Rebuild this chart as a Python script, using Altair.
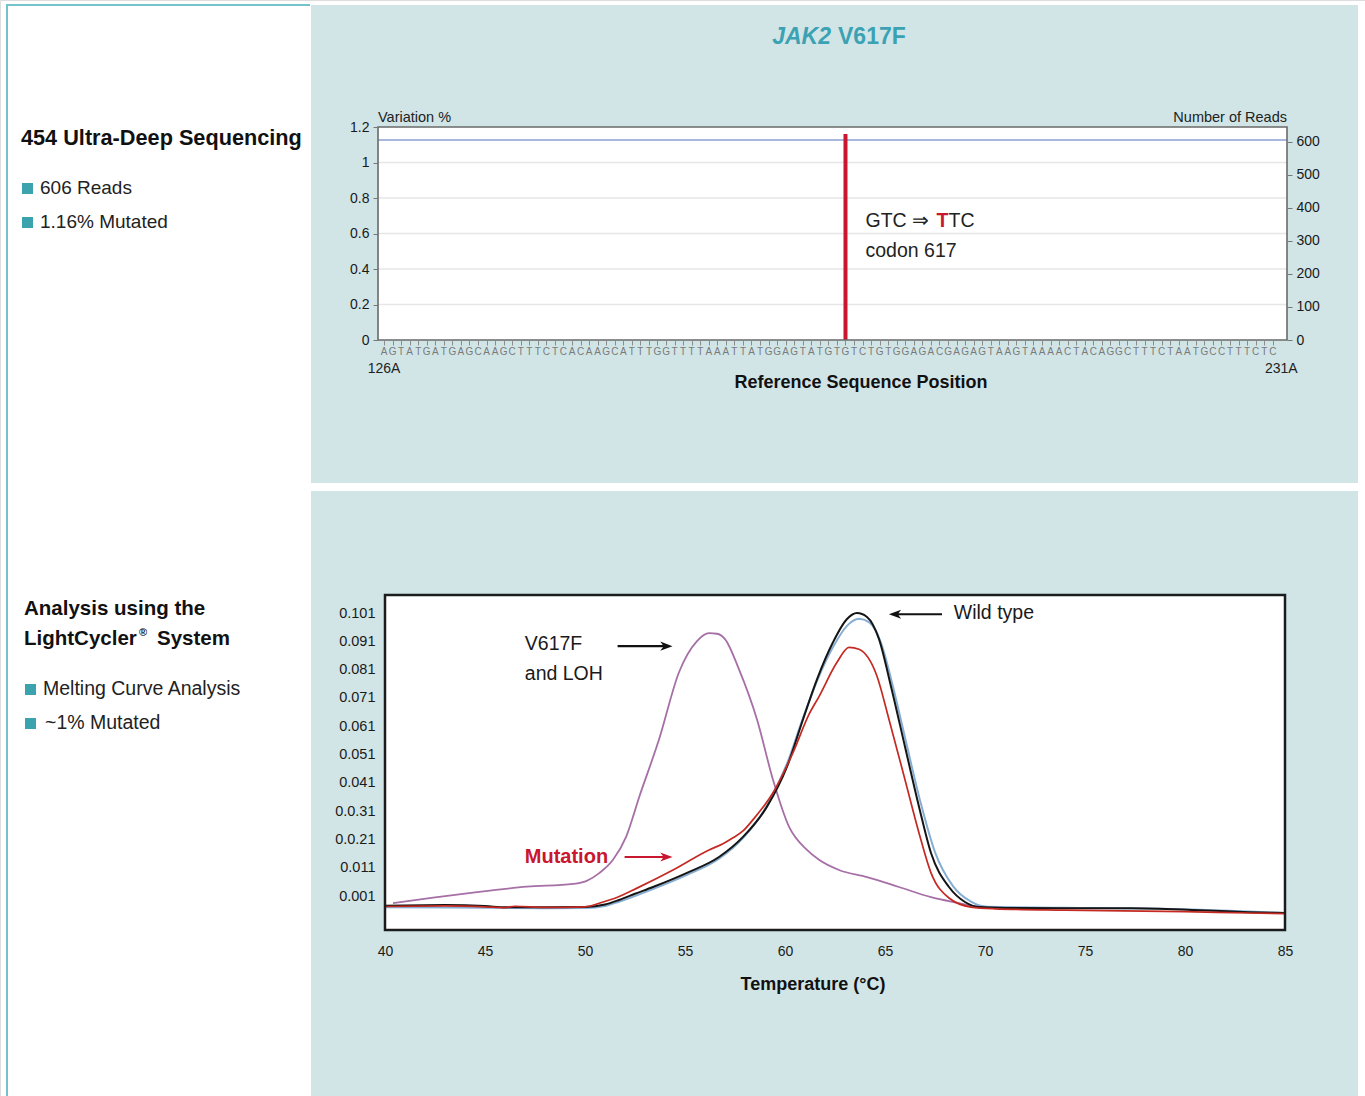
import altair as alt
import pandas as pd

# ---------------- data ----------------
title_italic = "JAK2"
title_plain = "V617F"

left_top_heading = "454 Ultra-Deep Sequencing"
left_top_bullets = ["606 Reads", "1.16% Mutated"]
left_bottom_heading = ["Analysis using the", "LightCycler", "®", "System"]
left_bottom_bullets = ["Melting Curve Analysis", "~1% Mutated"]

sequence = list("AGTATGATGAGCAAGCTTTCTCACAAGCATTTGGTTTTAAATTATGGAGTATGTGTCTGTGGAGACGAGAGTAAGTAAAACTACAGGCTTTCTAATGCCTTTCTC")
seq_start_label = "126A"
seq_end_label = "231A"
mutation_pos = [54]
mutation_pct = [1.16]
reads_total = [606]
variation_ticks = [0, 0.2, 0.4, 0.6, 0.8, 1, 1.2]
grid_values = [0.2, 0.4, 0.6, 0.8, 1.0]
reads_ticks = [0, 100, 200, 300, 400, 500, 600]
codon_text = ["GTC \u21d2 ", "T", "TC"]
codon_label = "codon 617"

temp_ticks = [40, 45, 50, 55, 60, 65, 70, 75, 80, 85]
y_tick_values = [0.001, 0.011, 0.021, 0.031, 0.041, 0.051, 0.061, 0.071, 0.081, 0.091, 0.101]
y_tick_labels = ["0.001", "0.011", "0.0.21", "0.0.31", "0.041", "0.051", "0.061", "0.071", "0.081", "0.091", "0.101"]

temp_v617f = [40.4, 42.5, 44.6, 47.1, 49.4, 50.06, 50.73, 51.4, 52.06, 52.72, 53.7, 54.7, 55.6, 56.2,
              56.6, 57.0, 57.7, 58.6, 59.4, 60.2, 61.1, 61.7, 62.7, 64.1, 65.7, 67.3, 68.7, 69.4, 70.3]
val_v617f = [-0.0015, 0.0005, 0.0024, 0.0043, 0.0053, 0.0063, 0.0092, 0.0138, 0.0220, 0.0362, 0.0563,
             0.0801, 0.0911, 0.0939, 0.0937, 0.0918, 0.0811, 0.0634, 0.0421, 0.0255, 0.0173, 0.0138,
             0.0102, 0.0077, 0.0042, 0.0006, -0.0015, -0.0025, -0.0029]

temp_wild = [40, 43, 45, 46, 48, 50, 51, 51.7, 52.5, 53.4, 55.1, 56.7, 57.9, 59.1, 60.1, 60.9, 61.6,
             62.4, 63.1, 63.6, 64.1, 64.7, 65.3, 66.0, 66.7, 67.3, 68.2, 69.0, 69.7, 71, 74, 77.3,
             80.7, 83.2, 85]
val_wild = [-0.0024, -0.0022, -0.0025, -0.0030, -0.0030, -0.0029, -0.0020, -0.0004, 0.0018, 0.0042,
            0.0092, 0.0148, 0.0219, 0.0326, 0.0467, 0.0634, 0.0776, 0.0907, 0.0989, 0.1010, 0.0996,
            0.0918, 0.0751, 0.0538, 0.0326, 0.0162, 0.0042, -0.0011, -0.0029, -0.0032, -0.0033,
            -0.0033, -0.0040, -0.0047, -0.0050]

temp_ctrl = [40, 45, 48, 50, 51, 51.7, 53.4, 55.1, 56.7, 57.9, 59.1, 60.1, 60.9, 61.6, 62.4, 63.1,
             63.7, 64.2, 64.8, 65.4, 66.1, 66.8, 67.5, 68.4, 69.3, 70.1, 74, 80.7, 85]
val_ctrl = [-0.0030, -0.0031, -0.0033, -0.0032, -0.0025, -0.0010, 0.0035, 0.0085, 0.0142, 0.0215,
            0.0330, 0.0478, 0.0640, 0.0770, 0.0890, 0.0965, 0.0990, 0.0978, 0.0905, 0.0750, 0.0540,
            0.0335, 0.0165, 0.0045, -0.0010, -0.0028, -0.0031, -0.0038, -0.0050]

temp_mut = [40, 43, 45, 46, 46.5, 48, 50, 50.9, 51.5, 52.6, 54.4, 56.2, 56.9, 57.4, 57.9, 58.4, 59.4,
            60.4, 61.2, 61.7, 62.6, 63.2, 63.7, 64.6, 65.2, 66.0, 66.7, 67.3, 68.2, 69.3, 70.5, 74,
            80, 83.2, 85]
val_mut = [-0.0027, -0.0025, -0.0028, -0.0031, -0.0026, -0.0030, -0.0028, -0.0011, 0.0002, 0.0038,
           0.0102, 0.0173, 0.0195, 0.0216, 0.0240, 0.0280, 0.0375, 0.0517, 0.0652, 0.0715, 0.0836,
           0.0889, 0.0882, 0.0787, 0.0634, 0.0421, 0.0233, 0.0092, 0.0003, -0.0029, -0.0035,
           -0.0040, -0.0045, -0.0050, -0.0052]

annot_text = ["V617F", "and LOH", "Wild type"]
annot_t = [46.99, 46.99, 68.44]
annot_v = [0.0900, 0.0794, 0.1010]
mutation_text = "Mutation"
mutation_t = 46.99
mutation_v = 0.0148

arrow_start = [51.63, 67.85, 51.98]
arrow_end = [54.0, 65.6, 54.0]
arrow_head = [54.07, 65.5, 54.07]
arrow_v = [0.0893, 0.1006, 0.0148]
arrow_dir = ["right", "left", "right"]
arrow_color = ["black", "black", "red"]

# ---------------- styling / layout (canvas pixels) ----------------
FONT = "Liberation Sans"
BLUE_BG = "#d1e5e7"
TEAL = "#75c3ca"
BULLET = "#3aa3ae"
TITLE_TEAL = "#3ca2b3"
RED = "#c8172f"

W, H = 1365, 1096
# top plot frame
TX0, TX1, TY0, TY1 = 378, 1287, 127, 340
# bottom plot frame
BX0, BX1, BY0, BY1 = 385, 1285, 595, 930


def one(df_dict):
    return pd.DataFrame(df_dict)


def px_rect(x1, x2, y1, y2, **kw):
    return alt.Chart(one({"a": [0]})).mark_rect(**kw).encode(
        x=alt.value(x1), x2=alt.value(x2), y=alt.value(y1), y2=alt.value(y2))


def px_text(s, x, y, **kw):
    return alt.Chart(one({"label": [s]})).mark_text(font=FONT, **kw).encode(
        x=alt.value(x), y=alt.value(y), text="label:N")


def px_square(x, y, size=121):
    return alt.Chart(one({"a": [0]})).mark_square(size=size, color=BULLET, opacity=1).encode(
        x=alt.value(x), y=alt.value(y))


# ================= background & page texts =================
bg_layers = [
    px_rect(311, 1358, 5, 483, color=BLUE_BG),
    px_rect(311, 1358, 491, 1096, color=BLUE_BG),
    px_rect(6, 8, 4, 1096, color=TEAL),
    px_rect(6, 310, 4, 6, color=TEAL),
    px_rect(TX0, TX1, TY0, TY1, color="white"),
    px_rect(BX0, BX1, BY0, BY1, color="white"),
    px_text(title_italic, 831, 37, fontSize=23, fontWeight="bold", fontStyle="italic",
            align="right", color=TITLE_TEAL),
    px_text(title_plain, 838, 37, fontSize=23, fontWeight="bold", align="left", color=TITLE_TEAL),
    px_text("Variation %", TX0, 118, fontSize=14.5, align="left", color="#222"),
    px_text("Number of Reads", TX1, 118, fontSize=14.5, align="right", color="#222"),
    px_text("Reference Sequence Position", 861, 383, fontSize=18, fontWeight="bold", color="#111"),
    px_text("Temperature (\u00b0C)", 813, 985, fontSize=18, fontWeight="bold", color="#111"),
    # left panel
    px_text(left_top_heading, 21, 138, fontSize=21.7, fontWeight="bold", align="left", color="#111"),
    px_square(27.5, 188.5),
    px_square(27.5, 222.5),
    px_text(left_top_bullets[0], 40, 188, fontSize=19, align="left", color="#222"),
    px_text(left_top_bullets[1], 40, 222, fontSize=19, align="left", color="#222"),
    px_text(left_bottom_heading[0], 24, 609, fontSize=20.5, fontWeight="bold", align="left", color="#111"),
    px_text(left_bottom_heading[1], 24, 639, fontSize=20.5, fontWeight="bold", align="left", color="#111"),
    px_text(left_bottom_heading[2], 139, 633, fontSize=11, fontWeight="bold", align="left", color="#111"),
    px_text(left_bottom_heading[3], 157, 639, fontSize=20.5, fontWeight="bold", align="left", color="#111"),
    px_square(30.5, 689.5),
    px_square(30.5, 723.5),
    px_text(left_bottom_bullets[0], 43, 689, fontSize=19.5, align="left", color="#222"),
    px_text(left_bottom_bullets[1], 45, 723, fontSize=19.5, align="left", color="#222"),
]
background = alt.layer(*bg_layers)

# ================= TOP CHART =================
xs_top = alt.Scale(domain=[-0.12, 105.08], range=[TX0, TX1], nice=False, zero=False)
ys_var = alt.Scale(domain=[0, 1.2], range=[TY1, TY0], nice=False)
ys_reads = alt.Scale(domain=[0, 645], range=[TY1, TY0], nice=False)

x_axis_top = alt.Axis(values=list(range(len(sequence))), labels=False, ticks=True, tickSize=5,
                      tickColor="#8c8c8c", tickWidth=1, domain=False, grid=False, title=None,
                      zindex=1, orient="bottom", offset=TY1 - H)


def XT(field):
    return alt.X(field, scale=xs_top, axis=x_axis_top)


seq_df = pd.DataFrame({"pos": list(range(len(sequence))), "base": sequence})

top_layers = [
    alt.Chart(one({"g": grid_values})).mark_rule(color="#e6e6e6", strokeWidth=1.5).encode(
        x=alt.value(TX0), x2=alt.value(TX1),
        y=alt.Y("g:Q", scale=ys_var, axis=None)),
    alt.Chart(one({"reads": reads_total})).mark_rule(color="#a9b7df", strokeWidth=2).encode(
        x=alt.value(TX0), x2=alt.value(TX1),
        y=alt.Y("reads:Q", scale=ys_reads,
                axis=alt.Axis(orient="right", offset=TX1 - W, values=reads_ticks, tickSize=5,
                              tickColor="#777", labelFontSize=14, labelColor="#1a1a1a",
                              labelPadding=4, domain=False, grid=False, title=None, zindex=1,
                              labelFont=FONT, labelFlush=False))),
    alt.Chart(one({"pos": mutation_pos, "pct": mutation_pct})).mark_bar(size=4, color=RED).encode(
        x=XT("pos:Q"),
        y=alt.Y("pct:Q", scale=ys_var,
                axis=alt.Axis(orient="left", offset=-TX0, values=variation_ticks, format="~g",
                              tickSize=5, tickColor="#777", labelFontSize=14, labelColor="#1a1a1a",
                              labelPadding=4, domain=False, grid=False, title=None, zindex=1,
                              labelFont=FONT, labelFlush=False))),
    px_rect(TX0, TX1, TY0, TY1, filled=False, stroke="#6a6a6a", strokeWidth=1.6),
    alt.Chart(seq_df).mark_text(font=FONT, fontSize=10, color="#7a7a7a").encode(
        x=XT("pos:Q"), y=alt.value(352), text="base:N"),
    alt.Chart(one({"pos": [0, 105], "label": [seq_start_label, seq_end_label]})).mark_text(
        font=FONT, fontSize=14, color="#222").encode(
        x=XT("pos:Q"), y=alt.value(369), text="label:N"),
    alt.Chart(one({"pos": [mutation_pos[0]], "v": [0.67], "label": [codon_text[0]]})).mark_text(
        font=FONT, fontSize=19.5, align="left", dx=20, color="#222").encode(
        x=XT("pos:Q"), y=alt.Y("v:Q", scale=ys_var, axis=None), text="label:N"),
    alt.Chart(one({"pos": [mutation_pos[0]], "v": [0.67], "label": [codon_text[1]]})).mark_text(
        font=FONT, fontSize=19.5, fontWeight="bold", align="left", dx=91, color=RED).encode(
        x=XT("pos:Q"), y=alt.Y("v:Q", scale=ys_var, axis=None), text="label:N"),
    alt.Chart(one({"pos": [mutation_pos[0]], "v": [0.67], "label": [codon_text[2]]})).mark_text(
        font=FONT, fontSize=19.5, align="left", dx=103, color="#222").encode(
        x=XT("pos:Q"), y=alt.Y("v:Q", scale=ys_var, axis=None), text="label:N"),
    alt.Chart(one({"pos": [mutation_pos[0]], "v": [0.50], "label": [codon_label]})).mark_text(
        font=FONT, fontSize=19.5, align="left", dx=20, color="#222").encode(
        x=XT("pos:Q"), y=alt.Y("v:Q", scale=ys_var, axis=None), text="label:N"),
]
top = alt.layer(*top_layers).resolve_scale(y="independent")

# ================= BOTTOM CHART =================
xs_bot = alt.Scale(domain=[40, 85], range=[BX0, BX1], nice=False, zero=False)
ys_bot = alt.Scale(domain=[-0.011, 0.1074], range=[BY1, BY0], nice=False, zero=False)
label_expr = "[" + ",".join("'%s'" % s for s in y_tick_labels) + "][round((datum.value - 0.001) * 100)]"

x_axis_bot = alt.Axis(values=temp_ticks, ticks=False, tickSize=0, labelPadding=14, labelFlush=False,
                      labelFontSize=14, labelColor="#1a1a1a", domain=False, grid=False,
                      title=None, zindex=1, labelFont=FONT, orient="bottom", offset=BY1 - H)
y_axis_bot = alt.Axis(values=y_tick_values, labelExpr=label_expr, ticks=False, tickSize=0,
                      labelPadding=10, labelFontSize=14.5, labelColor="#1a1a1a", domain=False,
                      labelFlush=False, grid=False, title=None, zindex=1, labelFont=FONT,
                      orient="left", offset=-BX0)


def XB(field):
    return alt.X(field, scale=xs_bot, axis=x_axis_bot)


def YB(field):
    return alt.Y(field, scale=ys_bot, axis=y_axis_bot)


def curve(temps, vals, color, width=1.8):
    return alt.Chart(pd.DataFrame({"t": temps, "v": vals})).mark_line(
        interpolate="monotone", color=color, strokeWidth=width).encode(x=XB("t:Q"), y=YB("v:Q"))


RIGHT_ARROW = "M 1 0 L -1 -0.75 L -0.45 0 L -1 0.75 Z"
LEFT_ARROW = "M -1 0 L 1 -0.75 L 0.45 0 L 1 0.75 Z"

arrow_layers = []
for xs0, xe, xh, yv, d, c in zip(arrow_start, arrow_end, arrow_head, arrow_v, arrow_dir, arrow_color):
    col = RED if c == "red" else "#111"
    arrow_layers.append(
        alt.Chart(one({"t": [xs0], "t2": [xe], "v": [yv]})).mark_rule(color=col, strokeWidth=2.2).encode(
            x=XB("t:Q"), x2="t2:Q", y=YB("v:Q")))
    arrow_layers.append(
        alt.Chart(one({"t": [xh], "v": [yv]})).mark_point(
            shape=RIGHT_ARROW if d == "right" else LEFT_ARROW, filled=True, size=150, color=col,
            opacity=1, strokeWidth=0).encode(x=XB("t:Q"), y=YB("v:Q")))

bottom_layers = [
    curve(temp_v617f, val_v617f, "#a66fa6"),
    curve(temp_ctrl, val_ctrl, "#86aed3", 2.0),
    curve(temp_wild, val_wild, "#151515", 2.0),
    curve(temp_mut, val_mut, "#c42a22", 1.7),
    *arrow_layers,
    alt.Chart(one({"t": annot_t, "v": annot_v, "label": annot_text})).mark_text(
        font=FONT, fontSize=19.5, align="left", color="#1a1a1a").encode(
        x=XB("t:Q"), y=YB("v:Q"), text="label:N"),
    alt.Chart(one({"t": [mutation_t], "v": [mutation_v], "label": [mutation_text]})).mark_text(
        font=FONT, fontSize=20, fontWeight="bold", align="left", color=RED).encode(
        x=XB("t:Q"), y=YB("v:Q"), text="label:N"),
    px_rect(BX0, BX1, BY0, BY1, filled=False, stroke="#1c1c1c", strokeWidth=2.5),
]
bottom = alt.layer(*bottom_layers)

chart = alt.layer(background, top, bottom).resolve_scale(
    x="independent", y="independent").properties(
    width=W, height=H, padding=0, background="white",
    autosize=alt.AutoSizeParams(type="none")).configure_view(stroke=None).configure(font=FONT)

chart.save("out.html", embed_options={"renderer": "svg", "actions": False})
